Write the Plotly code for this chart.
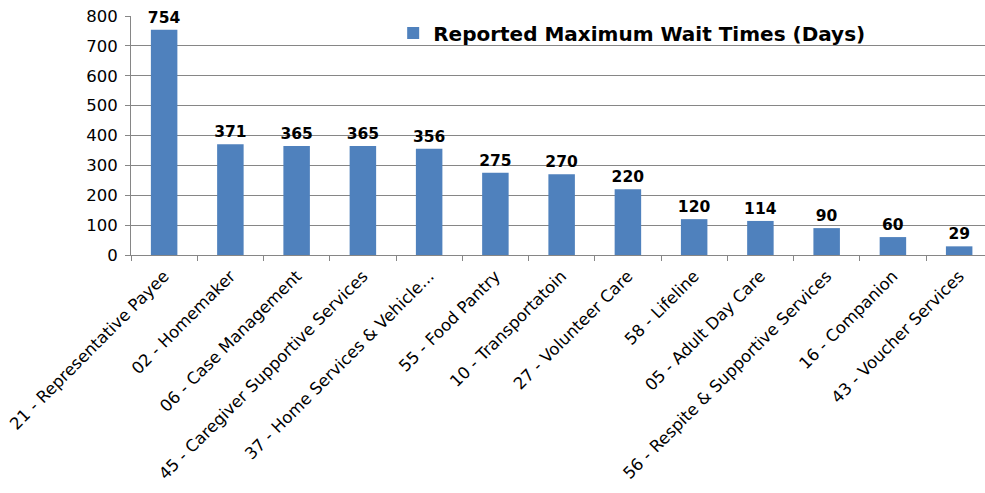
import plotly.graph_objects as go

categories = [
    "21 - Representative Payee",
    "02 - Homemaker",
    "06 - Case Management",
    "45 - Caregiver Supportive Services",
    "37 - Home Services & Vehicle...",
    "55 - Food Pantry",
    "10 - Transportatoin",
    "27 - Volunteer Care",
    "58 - Lifeline",
    "05 - Adult Day Care",
    "56 - Respite & Supportive Services",
    "16 - Companion",
    "43 - Voucher Services",
]
values = [754, 371, 365, 365, 356, 275, 270, 220, 120, 114, 90, 60, 29]
series_name = "Reported Maximum Wait Times (Days)"
y_ticks = [0, 100, 200, 300, 400, 500, 600, 700, 800]

FONT = "DejaVu Sans"
fig = go.Figure()
fig.add_trace(go.Bar(
    x=categories, y=values, name=series_name,
    marker=dict(color="#4F81BD", line=dict(width=0)),
    text=[str(v) for v in values], textposition="outside",
    constraintext="none",
    textfont=dict(family=FONT, size=15.5, color="#000000", weight="bold"),
    cliponaxis=False,
))
fig.update_layout(
    width=985, height=493,
    margin=dict(l=131, r=0, t=16, b=238),
    paper_bgcolor="white", plot_bgcolor="white",
    bargap=0.6,
    showlegend=True,
    legend=dict(x=0.307, y=0.929, xanchor="left", yanchor="middle",
                font=dict(family=FONT, size=20, color="#000000", weight="bold"),
                bgcolor="rgba(0,0,0,0)", itemwidth=30),
    font=dict(family=FONT, size=15, color="#000000"),
)
fig.update_yaxes(range=[0, 800], tickvals=y_ticks, showgrid=True, gridcolor="#868686",
                 gridwidth=1, showline=True, linecolor="#868686", ticks="outside",
                 ticklen=5, tickcolor="#868686", tickfont=dict(family=FONT, size=16.5),
                 ticklabelstandoff=4, ticklabeloverflow="allow",
                 zeroline=False, automargin=False)
fig.update_xaxes(range=[-0.5, 12.39], showline=True, linecolor="#868686", ticks="outside",
                 ticklen=5, tickcolor="#868686", tickson="boundaries", tickangle=-45,
                 ticklabelstandoff=4, ticklabeloverflow="allow",
                 tickfont=dict(family=FONT, size=16.5), automargin=False)
fig.write_html("out.html", config={"displayModeBar": False},
               post_script="document.body.style.margin='0';")
